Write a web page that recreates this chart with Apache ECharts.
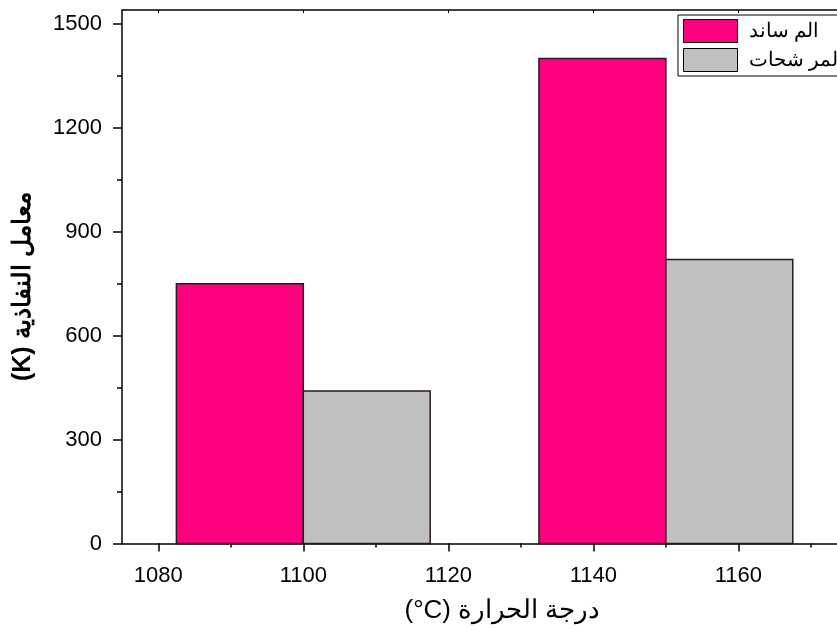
<!DOCTYPE html>
<html>
<head>
<meta charset="utf-8">
<script src="https://cdn.jsdelivr.net/npm/echarts@6/dist/echarts.min.js"></script>
<style>html,body{margin:0;padding:0;background:#fff}#c{width:837px;height:630px}</style>
</head>
<body>
<div id="c" dir="rtl"></div>
<script>
// Data
var groupCenters = [1100, 1150];          // temperature (°C) at group centres
var halfWidth = 17.5;                     // width of each bar in °C
var seriesNames = ['الم ساند', 'المر شحات'];
var valuesA = [750, 1400];                // الم ساند
var valuesB = [440, 820];                 // المر شحات
var xTicks = [1080, 1100, 1120, 1140, 1160];
var xMinor = [1090, 1110, 1130, 1150, 1170];
var yTicks = [0, 300, 600, 900, 1200, 1500];
var yMinor = [150, 450, 750, 1050, 1350];

var colors = ['#FF0080', '#C0C0C0'];
var font = '"Liberation Sans", Arial, sans-serif';
var X_MIN = 1075, X_MAX = 1173.6, Y_MAX = 1540;

function makeRender(offsetSign, color) {
  return function (params, api) {
    var c = api.value(0), v = api.value(1);
    var x0 = offsetSign < 0 ? c - halfWidth : c;
    var x1 = offsetSign < 0 ? c : c + halfWidth;
    var p0 = api.coord([x0, v]);
    var p1 = api.coord([x1, 0]);
    return {
      type: 'rect',
      shape: { x: p0[0], y: p0[1], width: p1[0] - p0[0], height: p1[1] - p0[1] },
      style: { fill: color, stroke: '#2a1a22', lineWidth: 1.5 }
    };
  };
}
function plain(v) { return String(v); }

var chart = echarts.init(document.getElementById('c'));
chart.setOption({
  animation: false,
  grid: { left: 122, top: 10, bottom: 86.5, right: 0 },
  legend: {
    left: 678, top: 15, orient: 'vertical',
    padding: [4, 6, 4, 5], itemGap: 5, itemWidth: 54, itemHeight: 23,
    borderColor: '#000', borderWidth: 1, backgroundColor: '#fff',
    textStyle: { fontFamily: font, fontSize: 20, color: '#000', padding: [0, 0, 0, 6] },
    data: [
      { name: seriesNames[0], icon: 'rect', itemStyle: { color: colors[0], borderColor: '#000', borderWidth: 1 } },
      { name: seriesNames[1], icon: 'rect', itemStyle: { color: colors[1], borderColor: '#000', borderWidth: 1 } }
    ]
  },
  xAxis: [{
    type: 'value', min: X_MIN, max: X_MAX, position: 'bottom',
    axisLine: { show: true, onZero: false, lineStyle: { color: '#000', width: 1.5 } },
    axisTick: { show: true, inside: false, length: 8, customValues: xTicks, lineStyle: { color: '#000', width: 1.5 } },
    axisLabel: { customValues: xTicks, formatter: plain, margin: 21, fontFamily: font, fontSize: 22, color: '#000' },
    splitLine: { show: false },
    name: 'درجة الحرارة (\u200E°C)', nameLocation: 'middle', nameGap: 54,
    nameTextStyle: { fontFamily: font, fontSize: 26, color: '#000', padding: [0, 0, 0, 46] }
  }, {
    type: 'value', min: X_MIN, max: X_MAX, position: 'bottom',
    axisLine: { show: false },
    axisTick: { show: true, inside: false, length: 4, customValues: xMinor, lineStyle: { color: '#000', width: 1.5 } },
    axisLabel: { show: false }, splitLine: { show: false }
  }, {
    type: 'value', min: X_MIN, max: X_MAX, position: 'top',
    axisLine: { show: true, onZero: false, lineStyle: { color: '#000', width: 1.5 } },
    axisTick: { show: true, inside: true, length: 3, customValues: xTicks, lineStyle: { color: '#000', width: 1 } },
    axisLabel: { show: false }, splitLine: { show: false }
  }],
  yAxis: [{
    type: 'value', min: 0, max: Y_MAX, position: 'left',
    axisLine: { show: true, onZero: false, lineStyle: { color: '#000', width: 1.5 } },
    axisTick: { show: true, inside: false, length: 9, customValues: yTicks, lineStyle: { color: '#000', width: 1.5 } },
    axisLabel: { customValues: yTicks, formatter: plain, margin: 20, fontFamily: font, fontSize: 22, color: '#000' },
    splitLine: { show: false },
    name: 'معامل النفاذية (K)', nameLocation: 'middle', nameGap: 86, nameRotate: 90,
    nameTextStyle: { fontFamily: font, fontSize: 25, fontWeight: 'bold', color: '#000', padding: [0, 20, 0, 0] }
  }, {
    type: 'value', min: 0, max: Y_MAX, position: 'left',
    axisLine: { show: false },
    axisTick: { show: true, inside: false, length: 5, customValues: yMinor, lineStyle: { color: '#000', width: 1.5 } },
    axisLabel: { show: false }, splitLine: { show: false }
  }],
  series: [{
    name: seriesNames[0], type: 'custom', xAxisIndex: 0, yAxisIndex: 0,
    itemStyle: { color: colors[0] },
    renderItem: makeRender(-1, colors[0]),
    encode: { x: 0, y: 1 },
    data: groupCenters.map(function (c, i) { return [c, valuesA[i]]; })
  }, {
    name: seriesNames[1], type: 'custom', xAxisIndex: 0, yAxisIndex: 0,
    itemStyle: { color: colors[1] },
    renderItem: makeRender(1, colors[1]),
    encode: { x: 0, y: 1 },
    data: groupCenters.map(function (c, i) { return [c, valuesB[i]]; })
  }]
});
</script>
</body>
</html>
